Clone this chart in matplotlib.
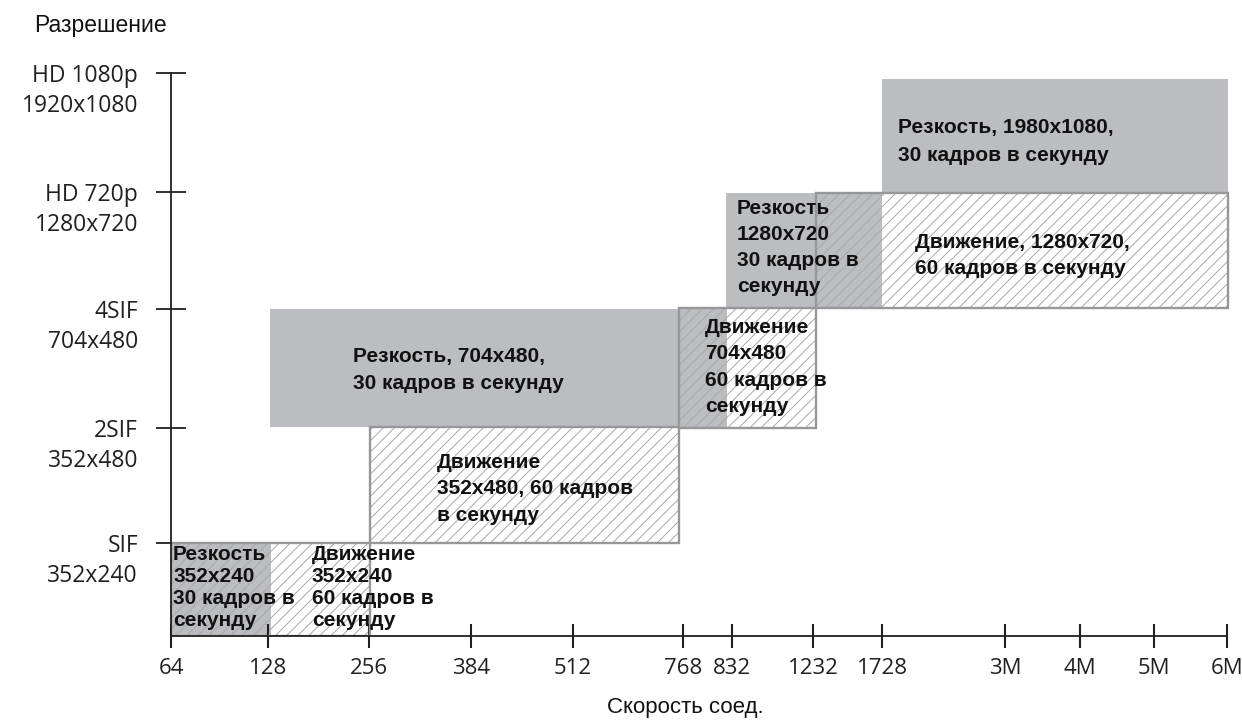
import matplotlib
matplotlib.use("Agg")
import matplotlib.pyplot as plt
from matplotlib.patches import Rectangle

plt.rcParams['hatch.linewidth'] = 0.7

# ---- data ----
speed_labels = ["64", "128", "256", "384", "512", "768", "832", "1232", "1728",
                "3M", "4M", "5M", "6M"]
speed_pos = [0, 97, 198, 300, 402, 512, 561, 642, 711, 834, 909, 983, 1056]

res_names = ["SIF", "2SIF", "4SIF", "HD 720p", "HD 1080p"]
res_sizes = ["352x240", "352x480", "704x480", "1280x720", "1920x1080"]
res_pos = [93, 208, 327.5, 444, 563]

# "Резкость" (sharpness, 30 fps) boxes
sharp_x0 = [0, 99, 555, 711]
sharp_x1 = [99.5, 556, 711, 1057]
sharp_y0 = [0, 209, 328, 443]
sharp_y1 = [93, 327, 443, 557]
sharp_text = ["Резкость\n352x240\n30 кадров в\nсекунду",
              "Резкость, 704x480,\n30 кадров в секунду",
              "Резкость\n1280x720\n30 кадров в\nсекунду",
              "Резкость, 1980x1080,\n30 кадров в секунду"]

# "Движение" (motion, 60 fps) boxes
motion_x0 = [0, 199, 508, 644.5]
motion_x1 = [199, 508, 644.5, 1057]
motion_y0 = [0, 93, 208, 328]
motion_y1 = [93, 209, 328, 443]
motion_text = ["Движение\n352x240\n60 кадров в\nсекунду",
               "Движение\n352x480, 60 кадров\nв секунду",
               "Движение\n704x480\n60 кадров в\nсекунду",
               "Движение, 1280x720,\n60 кадров в секунду"]

# ---- layout (text anchors / spacing) ----
sharp_tx = [2, 182, 566, 727]
sharp_ty = [48.5, 266, 388.5, 494.5]
sharp_ls = [1.2, 1.55, 1.46, 1.55]
motion_tx = [141, 266, 534, 744]
motion_ty = [48.5, 147, 269, 380.5]
motion_ls = [1.2, 1.49, 1.47, 1.5]

W, H = 1242, 723
fig = plt.figure(figsize=(W / 100, H / 100), dpi=100)
ax = fig.add_axes([171 / W, 87 / H, 1065 / W, 600 / H])
ax.set_xlim(0, 1065)
ax.set_ylim(0, 600)

grey = "#bcbdc0"
border = "#96979a"
hatch_col = "#a8a8a8"
axis_col = "#231f20"

for x0, x1, y0, y1 in zip(sharp_x0, sharp_x1, sharp_y0, sharp_y1):
    ax.add_patch(Rectangle((x0, y0), x1 - x0, y1 - y0, facecolor=grey,
                           edgecolor="none", lw=0, zorder=1))

for x0, x1, y0, y1 in zip(motion_x0, motion_x1, motion_y0, motion_y1):
    ax.add_patch(Rectangle((x0, y0), x1 - x0, y1 - y0, facecolor="none",
                           edgecolor=hatch_col, hatch="///", lw=0, zorder=1.5))
    ax.add_patch(Rectangle((x0, y0), x1 - x0, y1 - y0, facecolor="none",
                           edgecolor=border, lw=1.7, zorder=1.8))

bold = dict(family=["Liberation Sans", "DejaVu Sans"], fontsize=15,
            fontweight="bold", color="#111111", zorder=3)
for t, x, y, ls in zip(sharp_text, sharp_tx, sharp_ty, sharp_ls):
    ax.text(x, y, t, ha="left", va="center", linespacing=ls, **bold)
for t, x, y, ls in zip(motion_text, motion_tx, motion_ty, motion_ls):
    ax.text(x, y, t, ha="left", va="center", linespacing=ls, **bold)

# axes styling
for s in ["top", "right"]:
    ax.spines[s].set_visible(False)
ax.spines["left"].set_bounds(0, res_pos[-1])
ax.spines["bottom"].set_bounds(0, speed_pos[-1])
for s in ["left", "bottom"]:
    ax.spines[s].set_color(axis_col)
    ax.spines[s].set_linewidth(1.3)
    ax.spines[s].set_zorder(4)

lab_font = ["Open Sans", "DejaVu Sans"]
ax.set_xticks(speed_pos)
ax.set_xticklabels(speed_labels, family=lab_font, fontsize=16, color=axis_col)
ax.tick_params(axis="x", direction="inout", length=17, width=1.5,
               color=axis_col, pad=7)

ax.set_yticks(res_pos)
ax.set_yticklabels(res_names, family=lab_font, fontsize=16.5, color=axis_col)
ax.tick_params(axis="y", direction="inout", length=21.5, width=1.3,
               color=axis_col, pad=13)
for y, r in zip(res_pos, res_sizes):
    ax.text(-33, y - 33, r, ha="right", va="center", family=lab_font,
            fontsize=16.5, color=axis_col, clip_on=False)

ax.text(-71, 603.7, "Разрешение", ha="center", va="baseline",
        family=["Liberation Sans", "DejaVu Sans"], fontsize=16.5,
        color="#111111", clip_on=False)
ax.text(514, -71, "Скорость соед.", ha="center", va="center",
        family=["Liberation Sans", "DejaVu Sans"], fontsize=16,
        color="#111111", clip_on=False)

fig.savefig("out.png", dpi=100)
